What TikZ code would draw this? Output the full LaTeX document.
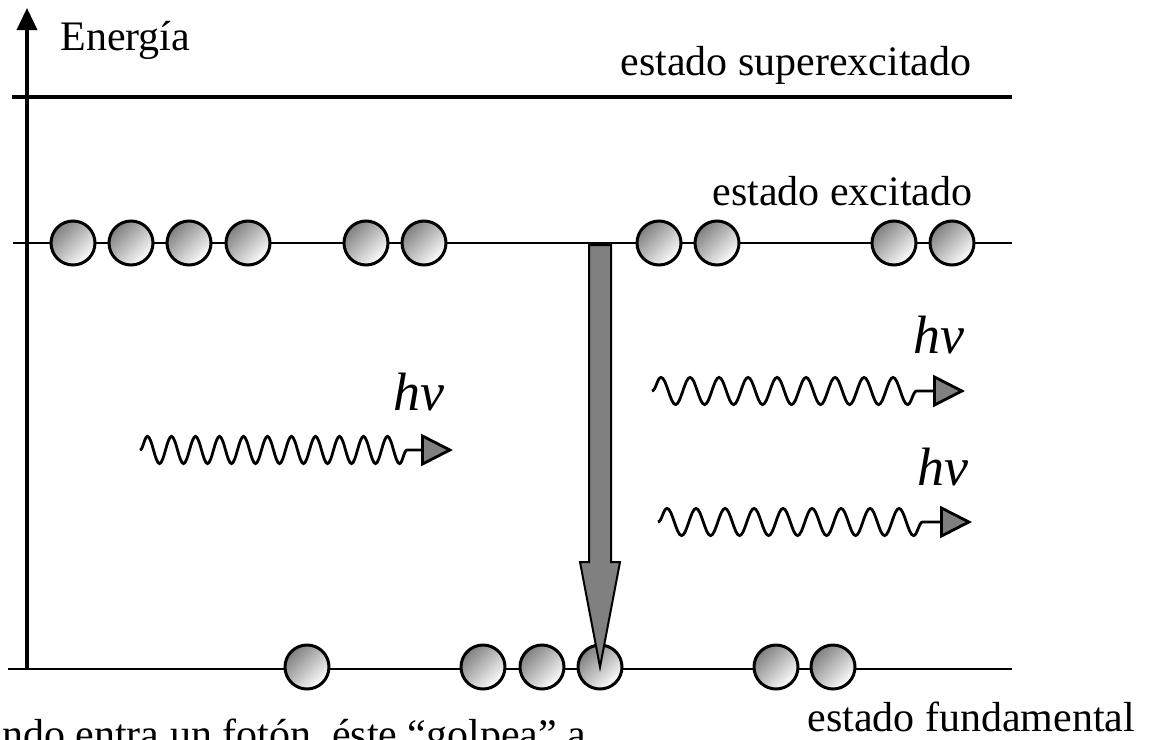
\documentclass[tikz,border=0pt]{standalone}
\usepackage{fontspec}
\setmainfont{Liberation Serif}
\usetikzlibrary{arrows.meta,calc,decorations.pathmorphing}

\tikzset{
  level/.style={line width=1.3pt},
  atom/.style={circle,draw,line width=1.5pt,minimum size=22pt,inner sep=0pt,
    top color=gray,bottom color=white,shading angle=45},
  photon/.style={line width=1.4pt,decorate,
    decoration={snake,amplitude=6.8pt,segment length=#1,post length=19pt},
    -{Triangle[length=16pt,width=16pt,fill=gray]}},
  photon/.default=12pt,
  lbl/.style={font=\fontsize{21}{25}\selectfont,inner sep=0pt},
  hv/.style={font=\fontsize{27}{30}\selectfont\itshape,inner sep=0pt},
}

\begin{document}
\begin{tikzpicture}[x=0.5pt,y=-0.5pt]
\useasboundingbox (0,0) rectangle (1166,739);

% energy axis
\coordinate (axbot) at (27,669);
\coordinate (axtop) at (27,8);
\draw[line width=1.8pt,-{Triangle[length=11pt,width=10pt]}] (axbot) -- (axtop);
\node[lbl,anchor=base west] (energia) at (60,50) {Energía};

% levels
\coordinate (s0) at (12,97);  \coordinate (s1) at (1012,97);
\coordinate (x0) at (13,243); \coordinate (x1) at (1012,243);
\coordinate (f0) at (8,669);  \coordinate (f1) at (1012,669);
\draw[line width=2pt] (s0) -- (s1);
\draw[level] (x0) -- (x1);
\draw[level] (f0) -- (f1);

\node[lbl,anchor=base west] (superlbl) at (620,75) {estado superexcitado};
\node[lbl,anchor=base west] (exclbl) at (712,205) {estado excitado};
\node[lbl,anchor=base west] (fundlbl) at (807,731) {estado fundamental};
\node[lbl,anchor=base west] (nota) at (-66,748) {Cuando entra un fotón, éste “golpea” a};

% electrons
\foreach \cx [count=\i] in {73,131,189,248,366,424,659,717,894,952}
  \node[atom] (e\i) at (\cx,243) {};
\foreach \cx [count=\i] in {307,483,542,600,776,833}
  \node[atom] (g\i) at (\cx,667) {};

% decay arrow
\coordinate (drop) at (600,245);
\filldraw[fill=gray,line width=1pt]
  ($(drop)+(-11,0)$) -- ($(drop)+(11,0)$) -- ($(g4.center)+(11,-105)$)
  -- ($(g4.center)+(20,-105)$) -- (g4.center) -- ($(g4.center)+(-20,-105)$)
  -- ($(g4.center)+(-11,-105)$) -- cycle;

% photons
\coordinate (p1a) at (140,450); \coordinate (p1b) at (453,450);
\draw[photon=12pt] (p1a) -- (p1b);
\node[hv,anchor=base east] (hv1) at (445,410) {hv};

\coordinate (p2a) at (652,391); \coordinate (p2b) at (965,391);
\draw[photon=14.5pt] (p2a) -- (p2b);
\node[hv,anchor=base east] (hv2) at (965,353) {hv};

\coordinate (p3a) at (658,522); \coordinate (p3b) at (972,522);
\draw[photon=14.5pt] (p3a) -- (p3b);
\node[hv,anchor=base east] (hv3) at (969,485) {hv};
\end{tikzpicture}
\end{document}
